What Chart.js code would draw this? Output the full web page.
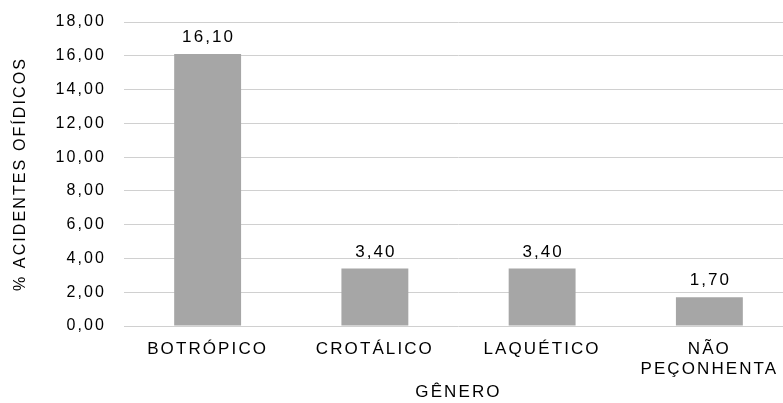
<!DOCTYPE html>
<html>
<head>
<meta charset="utf-8">
<script src="https://cdn.jsdelivr.net/npm/chart.js@4"></script>
<style>
  html, body { margin: 0; padding: 0; background: #fff; overflow: hidden; }
  #wrap { width: 800px; height: 403px; }
</style>
</head>
<body>
<div id="wrap"><canvas id="c" width="800" height="403"></canvas></div>
<script>
const categories = ['BOTRÓPICO', 'CROTÁLICO', 'LAQUÉTICO', ['NÃO', 'PEÇONHENTA']];
const percentages = [16.10, 3.40, 3.40, 1.70];
const yTicks = { min: 0, max: 18, step: 2 };

const FONT = "'Liberation Sans', Arial, sans-serif";
const TEXT = '#000';
const SPACING = '2.1px';
const fmt = v => v.toFixed(2).replace('.', ',');

// wide letter spacing for every text drawn on the chart
const spacedText = {
  id: 'spacedText',
  beforeDraw(chart) { chart.ctx.letterSpacing = SPACING; }
};

// value labels above each bar
const valueLabels = {
  id: 'valueLabels',
  afterDatasetsDraw(chart) {
    const ctx = chart.ctx;
    const meta = chart.getDatasetMeta(0);
    ctx.save();
    ctx.letterSpacing = SPACING;
    ctx.font = '17px ' + FONT;
    ctx.fillStyle = TEXT;
    ctx.textAlign = 'center';
    ctx.textBaseline = 'alphabetic';
    meta.data.forEach((bar, i) => {
      ctx.fillText(fmt(percentages[i]), bar.x + 1, bar.y - 12);
    });
    ctx.restore();
  }
};

new Chart(document.getElementById('c'), {
  type: 'bar',
  data: {
    labels: categories,
    datasets: [{
      data: percentages,
      backgroundColor: '#a6a6a6',
      barPercentage: 0.4,
      categoryPercentage: 1.0
    }]
  },
  options: {
    responsive: false,
    animation: false,
    layout: { padding: { top: 22, left: 11, right: 7, bottom: 0 } },
    plugins: { legend: { display: false }, tooltip: { enabled: false } },
    scales: {
      x: {
        grid: { display: false },
        border: { display: false },
        ticks: { color: TEXT, font: { family: FONT, size: 17 }, maxRotation: 0, autoSkip: false, padding: 5 },
        title: { display: true, text: 'GÊNERO', color: TEXT, font: { family: FONT, size: 17 }, padding: { top: 2, bottom: 0 } },
        afterFit(scale) { scale.height = 77; }
      },
      y: {
        min: yTicks.min,
        max: yTicks.max,
        grid: { color: '#d0d0d0', lineWidth: 1, drawTicks: true, tickLength: 15, tickColor: 'rgba(0,0,0,0)' },
        border: { display: false },
        ticks: {
          stepSize: yTicks.step,
          color: TEXT,
          padding: 3,
          font: { family: FONT, size: 16 },
          callback: v => fmt(v)
        },
        title: { display: true, text: '% ACIDENTES OFÍDICOS', color: TEXT, font: { family: FONT, size: 16 }, padding: 0 },
        afterFit(scale) { scale.width = 113; }
      }
    }
  },
  plugins: [spacedText, valueLabels]
});
</script>
</body>
</html>
